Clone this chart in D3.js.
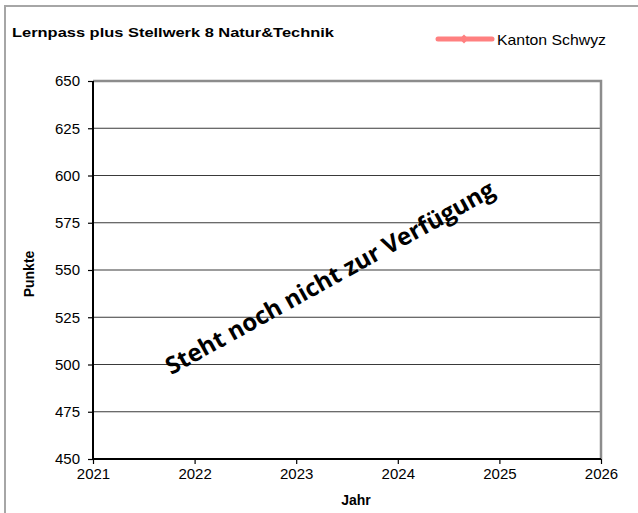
<!DOCTYPE html>
<html>
<head>
<meta charset="utf-8">
<script src="https://cdn.jsdelivr.net/npm/d3@7"></script>
<style>
  body { margin: 0; background: #fff; }
  text { font-family: "Liberation Sans", Arial, sans-serif; }
</style>
</head>
<body>
<div id="chart"></div>
<script>
// chart data
var years = [2021, 2022, 2023, 2024, 2025, 2026]
var yTicks = [450, 475, 500, 525, 550, 575, 600, 625, 650]
var seriesName = "Kanton Schwyz"
var seriesValues = []   // no values yet ("Steht noch nicht zur Verfügung")
var title = "Lernpass plus Stellwerk 8 Natur&Technik"
var notice = "Steht noch nicht zur Verfügung"

var W = 638, H = 513
var plot = {left: 93, right: 601, top: 81, bottom: 459}

var svg = d3.select("#chart")
    .append("svg")
        .attr("width", W)
        .attr("height", H)

// outer chart border (right and bottom run off the picture)
svg.append("rect")
    .attr("x", 5).attr("y", 6)
    .attr("width", 700).attr("height", 600)
    .attr("fill", "none")
    .attr("stroke", "#a6a6a6")
    .attr("stroke-width", 2)

var x = d3.scaleLinear().domain([years[0], years[years.length - 1]]).range([plot.left, plot.right])
var y = d3.scaleLinear().domain([yTicks[0], yTicks[yTicks.length - 1]]).range([plot.bottom, plot.top])

// gridlines
svg.append("g")
    .selectAll("line")
    .data(yTicks.slice(1, -1))
    .join("line")
        .attr("x1", plot.left).attr("x2", plot.right)
        .attr("y1", d => y(d)).attr("y2", d => y(d))
        .attr("stroke", "#3a3a3a")
        .attr("stroke-width", 1.2)

// top and right frame
svg.append("path")
    .attr("d", "M" + plot.left + "," + plot.top + "H" + plot.right + "V" + plot.bottom)
    .attr("fill", "none")
    .attr("stroke", "#8c8c8c")
    .attr("stroke-width", 2.5)

// axes
var yAxis = svg.append("g")
    .attr("transform", "translate(" + plot.left + ",0)")
    .call(d3.axisLeft(y).tickValues(yTicks).tickSize(5).tickPadding(8).tickFormat(d3.format("d")))
var xAxis = svg.append("g")
    .attr("transform", "translate(0," + plot.bottom + ")")
    .call(d3.axisBottom(x).tickValues(years).tickSize(5).tickPadding(4).tickFormat(d3.format("d")))

;[yAxis, xAxis].forEach(function(a) {
    a.select(".domain").attr("stroke", "#000").attr("stroke-width", 2)
    a.selectAll(".tick line").attr("stroke", "#000").attr("stroke-width", 1.2)
    a.selectAll(".tick text")
        .attr("fill", "#000")
        .style("font-family", '"Liberation Sans", Arial, sans-serif')
        .style("font-size", "15px")
})
yAxis.select(".domain").attr("d", "M0," + plot.bottom + "V" + plot.top)
xAxis.select(".domain").attr("d", "M" + plot.left + ",0H" + plot.right)

// series line (empty)
svg.append("path")
    .datum(seriesValues)
    .attr("fill", "none")
    .attr("stroke", "#ff8080")
    .attr("stroke-width", 5)
    .attr("d", d3.line().x((d, i) => x(years[i])).y(d => y(d)))

// title
svg.append("text")
    .attr("x", 12).attr("y", 37)
    .attr("font-weight", "bold")
    .attr("font-size", 13)
    .attr("textLength", 322)
    .attr("lengthAdjust", "spacingAndGlyphs")
    .text(title)

// legend
var lg = svg.append("g").attr("transform", "translate(0,39)")
lg.append("line")
    .attr("x1", 438).attr("x2", 492)
    .attr("stroke", "#ff8080")
    .attr("stroke-width", 5)
    .attr("stroke-linecap", "round")
lg.append("path")
    .attr("d", d3.symbol(d3.symbolDiamond2, 50)())
    .attr("transform", "translate(464,0)")
    .attr("fill", "#ff8080")
lg.append("text")
    .attr("x", 497).attr("y", 6)
    .attr("font-size", 15)
    .attr("textLength", 109)
    .attr("lengthAdjust", "spacingAndGlyphs")
    .text(seriesName)

// axis titles
svg.append("text")
    .attr("transform", "translate(34,274) rotate(-90)")
    .attr("text-anchor", "middle")
    .attr("font-weight", "bold")
    .attr("font-size", 14)
    .text("Punkte")
svg.append("text")
    .attr("x", 356).attr("y", 505)
    .attr("text-anchor", "middle")
    .attr("font-weight", "bold")
    .attr("font-size", 14)
    .text("Jahr")

// notice across the plot
svg.append("text")
    .attr("transform", "translate(334,285) rotate(-29)")
    .attr("text-anchor", "middle")
    .style("font-family", '"Open Sans", sans-serif')
    .attr("font-weight", "bold")
    .attr("font-size", 24)
    .text(notice)
</script>
</body>
</html>
